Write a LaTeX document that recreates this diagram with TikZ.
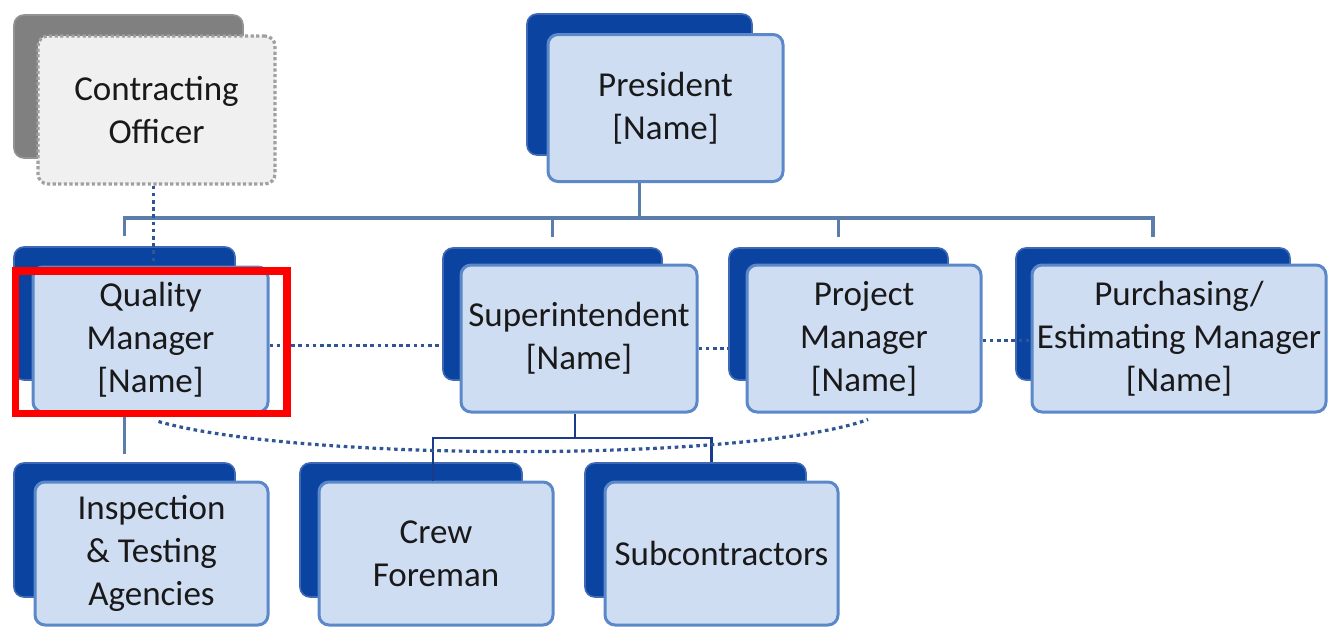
\documentclass[tikz,border=0pt]{standalone}
\usepackage{fontspec}
\setmainfont{Carlito}
\usetikzlibrary{calc}
\definecolor{shadowblue}{HTML}{0B44A0}
\definecolor{shadowedge}{HTML}{3F68B5}
\definecolor{boxfill}{HTML}{CFDDF3}
\definecolor{boxline}{HTML}{5A88C8}
\definecolor{treeline}{HTML}{5B7DAB}
\definecolor{subline}{HTML}{1A3A8A}
\definecolor{dotline}{HTML}{2F5597}
\definecolor{cogray}{HTML}{808080}
\definecolor{cofill}{HTML}{F0F0F0}
\definecolor{coline}{HTML}{A0A0A0}
\begin{document}
\begin{tikzpicture}[x=0.5pt,y=-0.5pt,
  shadowbox/.style={rectangle, rounded corners=5pt, fill=shadowblue, draw=shadowedge, line width=0.8pt, inner sep=0pt},
  cashadow/.style={rectangle, rounded corners=5pt, fill=cogray, draw=cogray!85!white, line width=0.8pt, inner sep=0pt},
  frontbox/.style={rectangle, rounded corners=5pt, fill=boxfill, draw=boxline, line width=1.5pt, align=center, inner sep=0pt, font=\fontsize{17.5pt}{21.5pt}\selectfont, text=black!90},
  cofront/.style={frontbox, fill=cofill, draw=coline, line width=1.6pt, dash pattern=on 1.6pt off 1.2pt},
  tree/.style={draw=treeline, line width=1.6pt},
  subtree/.style={draw=subline, line width=1.4pt},
  dotlink/.style={draw=dotline, line width=1.6pt, dash pattern=on 1.8pt off 1.8pt},
  highlight/.style={draw=red, line width=3.75pt, rectangle, inner sep=0pt}]
\useasboundingbox (0,0) rectangle (1328,627);

\coordinate (bus) at (0,218);
\coordinate (supJ) at (575,438);

% shadows
\node[cashadow, minimum width=114.5pt, minimum height=71.5pt] (coS) at (128.5,86.5) {};
\node[shadowbox, minimum width=112.5pt, minimum height=70.5pt] (presS) at (639.5,84.5) {};
\node[shadowbox, minimum width=110.5pt, minimum height=66.5pt] (qmS) at (124.5,313.5) {};
\node[shadowbox, minimum width=109.5pt, minimum height=66pt] (supS) at (552.5,314) {};
\node[shadowbox, minimum width=109.5pt, minimum height=66pt] (pmS) at (838.5,314) {};
\node[shadowbox, minimum width=137pt, minimum height=66pt] (purS) at (1153,314) {};
\node[shadowbox, minimum width=110.5pt, minimum height=67pt] (inspS) at (124.5,530) {};
\node[shadowbox, minimum width=111pt, minimum height=67pt] (crewS) at (411,530) {};
\node[shadowbox, minimum width=110.5pt, minimum height=67pt] (subS) at (695.5,530) {};

% front boxes
\node[cofront, minimum width=118.5pt, minimum height=74pt] (co) at (156.5,110) {Contracting\\Officer};
\node[frontbox, minimum width=117.5pt, minimum height=73.5pt] (pres) at (665.5,108) {President\\{[Name]}};
\node[frontbox, minimum width=117.5pt, minimum height=72.5pt] (qm) at (150.5,339.5) {Quality\\Manager\\{[Name]}};
\node[frontbox, minimum width=118pt, minimum height=73.5pt] (sup) at (579,338.5) {Superintendent\\{[Name]}};
\node[frontbox, minimum width=117pt, minimum height=73.5pt] (pm) at (864,338.5) {Project\\Manager\\{[Name]}};
\node[frontbox, minimum width=147pt, minimum height=73.5pt] (pur) at (1179,338.5) {Purchasing/\\Estimating Manager\\{[Name]}};
\node[frontbox, minimum width=116.5pt, minimum height=71.5pt] (insp) at (151.5,553.5) {Inspection\\\&~Testing\\Agencies};
\node[frontbox, minimum width=117pt, minimum height=71.5pt] (crew) at (436,553.5) {Crew\\Foreman};
\node[frontbox, minimum width=116.5pt, minimum height=71.5pt] (subc) at (721.5,553.5) {Subcontractors};

% solid reporting lines
\draw[tree] (pres.south -| presS.south) -- (bus -| presS.south);
\draw[tree, shorten <=5pt, shorten >=5pt] (qmS.north) |- (bus -| purS.north) -- (purS.north);
\draw[tree, shorten >=5pt] (bus -| supS.north) -- (supS.north);
\draw[tree, shorten >=5pt] (bus -| pmS.north) -- (pmS.north);
\draw[tree, shorten >=4pt] (qm.south -| qmS.south) -- (inspS.north);
\draw[subtree] (sup.south -| supJ) -- (supJ);
\draw[subtree] ([xshift=-1.5pt]crew.north) |- (supJ) -| ([xshift=-5pt]subc.north |- subS.north);

% dotted coordination lines
\draw[dotlink] ([xshift=-1.5pt]co.south) -- ([xshift=-1.5pt]co.south |- qm.north);
\draw[dotlink] ([yshift=-3pt]qm.east) -- ([yshift=-3pt]qm.east -| supS.west);
\draw[dotlink] ([yshift=-5pt]sup.east) -- ([yshift=-5pt]sup.east -| pmS.west);
\draw[dotlink] ([yshift=-1pt]pm.east) -- ([yshift=-1pt]pm.east -| pur.west);
\draw[dotlink] ([xshift=4pt,yshift=-4pt]qm.south) .. controls (300,462) and (750,462) .. ([xshift=2pt,yshift=-3pt]pm.south);

% highlight frame
\node[highlight, minimum width=135.75pt, minimum height=71.25pt] (hl) at (151.25,342.25) {};
\end{tikzpicture}
\end{document}
